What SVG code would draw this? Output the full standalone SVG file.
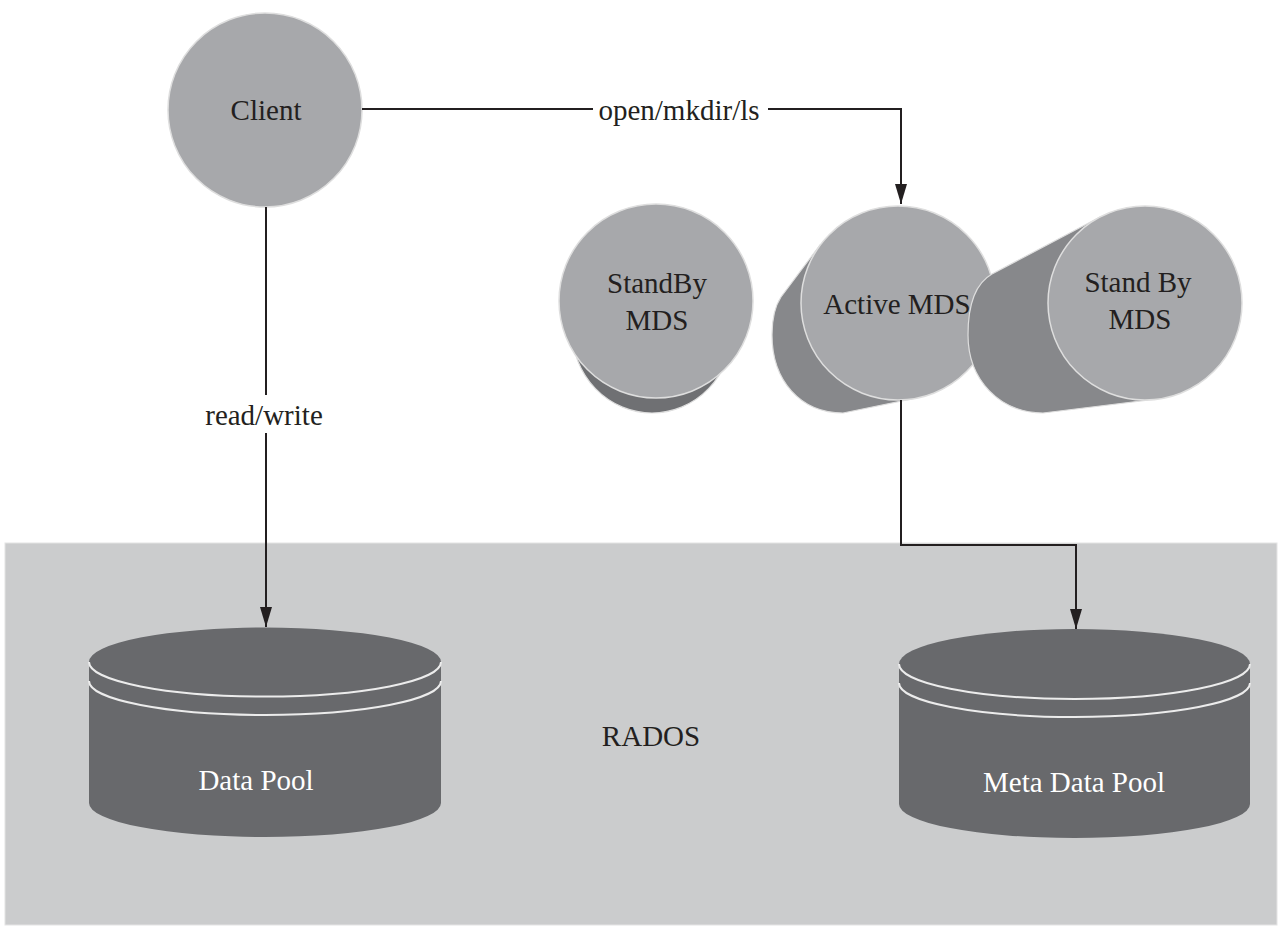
<svg xmlns="http://www.w3.org/2000/svg" width="1280" height="932" viewBox="0 0 1280 932">
<defs>
<style>
.t{font-family:"Liberation Serif","Times New Roman",serif;font-size:29px;fill:#231f20;text-anchor:middle}
.tw{font-family:"Liberation Serif","Times New Roman",serif;font-size:29px;fill:#ffffff;text-anchor:middle}
.node{fill:#a7a8ab;stroke:#dedede;stroke-width:1.5}
.sh1{fill:#87888b;stroke:#dedede;stroke-width:1.2}
.sh2{fill:#6f7073;stroke:#dedede;stroke-width:1.2}
.cyl{fill:#68696c}
.cl{fill:none;stroke:#ececec;stroke-width:2}
.conn{fill:none;stroke:#231f20;stroke-width:2}
</style>
<marker id="arr" viewBox="0 0 20 12" refX="20" refY="6" markerWidth="20" markerHeight="12" markerUnits="userSpaceOnUse" orient="auto">
<path d="M0,0 L20,6 L0,12 Z" fill="#231f20"/>
</marker>
</defs>
<rect width="1280" height="932" fill="#ffffff"/>
<g id="rados">
<rect x="5" y="543" width="1272" height="382" fill="#cbcccd" stroke="#e4e4e4" stroke-width="1"/>
<text class="t" x="651" y="746">RADOS</text>
</g>
<g id="client">
<circle class="node" cx="265" cy="110" r="97"/>
<text class="t" x="266" y="120">Client</text>
</g>
<g id="standby-left">
<ellipse class="sh2" cx="652" cy="330" rx="80" ry="83"/>
<circle class="node" cx="656" cy="301" r="97"/>
<text class="t" x="657" y="293">StandBy</text>
<text class="t" x="657" y="330">MDS</text>
</g>
<g id="active-mds">
<path class="sh1" d="M820,245 L781,297 C775,306 772,320 772,335 C772,380 800,413 843,413 L916,398 Z"/>
<circle class="node" cx="898" cy="303" r="97"/>
<text class="t" x="897" y="314">Active MDS</text>
</g>
<g id="standby-right">
<path class="sh1" d="M1100,217 L992,274 C976,283 968,305 968,335 C968,380 1000,413 1043,413 L1157,399 Z"/>
<circle class="node" cx="1145" cy="303" r="97"/>
<text class="t" x="1138" y="292">Stand By</text>
<text class="t" x="1140" y="329">MDS</text>
</g>
<g id="data-pool">
<path class="cyl" d="M89,662 A176,34.5 0 0 1 441,662 L441,803 A176,34 0 0 1 89,803 Z"/>
<path class="cl" d="M89,662 A176,34.5 0 0 0 441,662"/>
<path class="cl" d="M89,681 A176,34 0 0 0 441,681"/>
<text class="tw" x="256" y="790">Data Pool</text>
</g>
<g id="meta-data-pool">
<path class="cyl" d="M899,664 A175.5,35 0 0 1 1250,664 L1250,804 A175.5,34 0 0 1 899,804 Z"/>
<path class="cl" d="M899,664 A175.5,35 0 0 0 1250,664"/>
<path class="cl" d="M899,683 A175.5,34 0 0 0 1250,683"/>
<text class="tw" x="1074" y="792">Meta Data Pool</text>
</g>
<g id="connectors">
<path class="conn" d="M362,109 L593,109"/>
<path class="conn" d="M768,109 L901,109 L901,204" marker-end="url(#arr)"/>
<text class="t" x="679" y="120">open/mkdir/ls</text>
<path class="conn" d="M266,207 L266,395"/>
<path class="conn" d="M266,433 L266,627" marker-end="url(#arr)"/>
<text class="t" x="264" y="425">read/write</text>
<path class="conn" d="M901,400 L901,545 L1076,545 L1076,629" marker-end="url(#arr)"/>
</g>
</svg>
